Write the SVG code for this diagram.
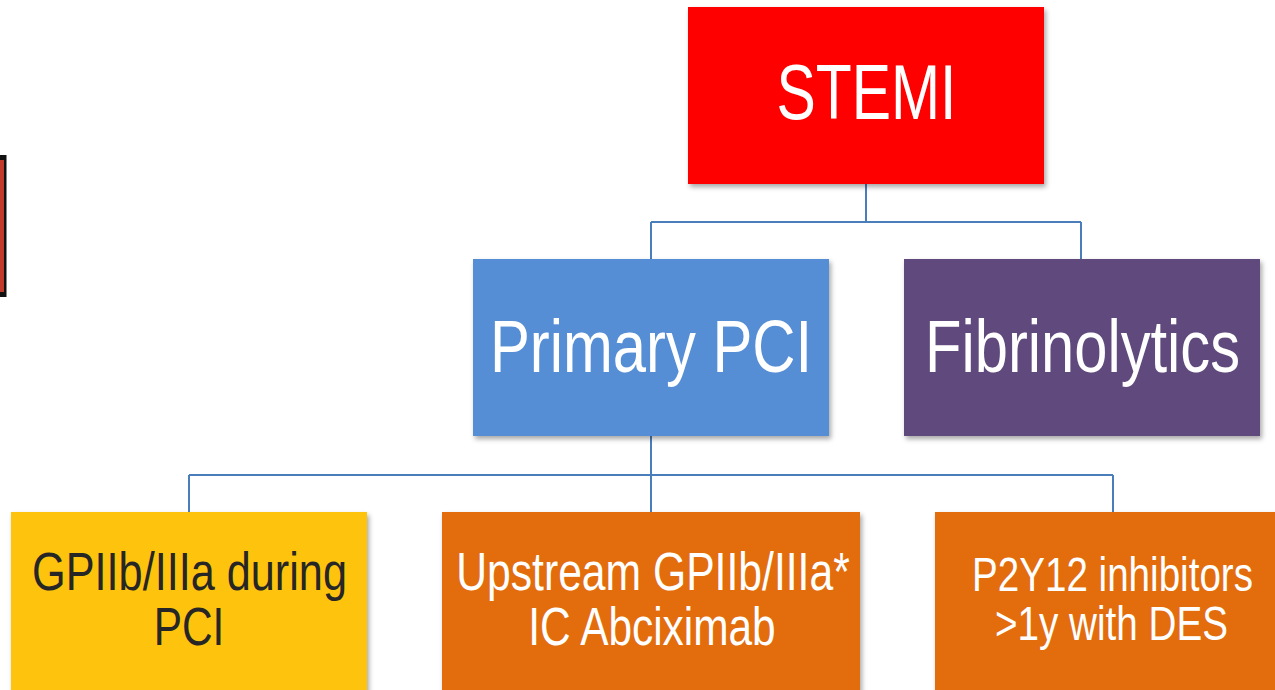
<svg xmlns="http://www.w3.org/2000/svg" width="1275" height="690" viewBox="0 0 1275 690">
<defs>
<filter id="sh" x="-5%" y="-5%" width="115%" height="115%">
<feDropShadow dx="2" dy="3" stdDeviation="2.5" flood-color="#000" flood-opacity="0.35"/>
</filter>
<style>
.t{font-family:"Liberation Sans",Arial,sans-serif;text-anchor:middle}
.w{fill:#ffffff}
.d{fill:#262626}
.c{fill:none;stroke:#4A7EBB;stroke-width:2}
</style>
</defs>
<rect width="1275" height="690" fill="#ffffff"/>
<g id="left-strip">
<rect x="-10" y="155" width="16.5" height="142" fill="#111111"/>
<rect x="-10" y="160" width="14" height="132" fill="#C0392B"/>
</g>
<g id="connectors">
<path class="c" d="M866,184 V222 M651,222 H1081 M651,222 V259 M1081,222 V259"/>
<path class="c" d="M651,436 V475 M189,475 H1113 M189,475 V512 M651,475 V512 M1113,475 V512"/>
</g>
<g id="stemi">
<rect x="688" y="7" width="356" height="177" fill="#FF0000" filter="url(#sh)"/>
<text class="t w" font-size="78" transform="translate(866.5,119) scale(0.755,1)">STEMI</text>
</g>
<g id="primary-pci">
<rect x="473" y="259" width="356" height="177" fill="#558ED5" filter="url(#sh)"/>
<text class="t w" font-size="75" transform="translate(651,372) scale(0.797,1)">Primary PCI</text>
</g>
<g id="fibrinolytics">
<rect x="904" y="259" width="356" height="177" fill="#604A7B" filter="url(#sh)"/>
<text class="t w" font-size="75" transform="translate(1082.5,372) scale(0.796,1)">Fibrinolytics</text>
</g>
<g id="gp-during-pci">
<rect x="11" y="512" width="356" height="190" fill="#FEC30F" filter="url(#sh)"/>
<text class="t d" font-size="53" transform="translate(189.5,590) scale(0.816,1)">GPIIb/IIIa during</text>
<text class="t d" font-size="53" transform="translate(189,645) scale(0.8,1)">PCI</text>
</g>
<g id="upstream">
<rect x="442" y="512" width="418" height="190" fill="#E36C0A" filter="url(#sh)"/>
<text class="t w" font-size="53" transform="translate(653,590) scale(0.805,1)">Upstream GPIIb/IIIa*</text>
<text class="t w" font-size="53" transform="translate(652,645) scale(0.8,1)">IC Abciximab</text>
</g>
<g id="p2y12">
<rect x="935" y="512" width="360" height="190" fill="#E36C0A" filter="url(#sh)"/>
<text class="t w" font-size="48" transform="translate(1112.5,591) scale(0.804,1)">P2Y12 inhibitors</text>
<text class="t w" font-size="48" transform="translate(1111.5,640) scale(0.805,1)">&gt;1y with DES</text>
</g>
</svg>
